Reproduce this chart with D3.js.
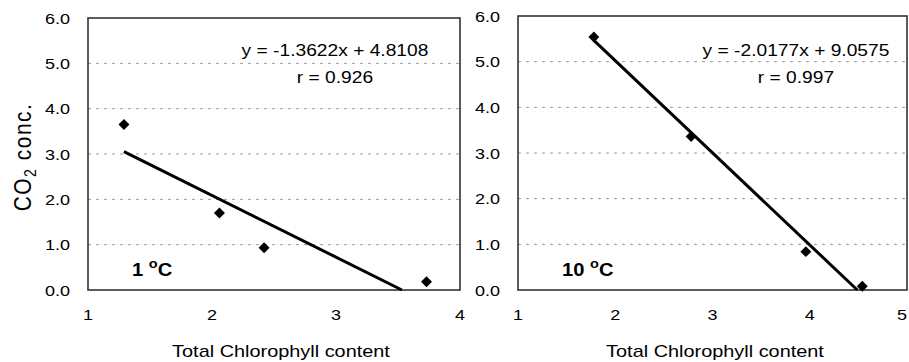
<!DOCTYPE html>
<html>
<head>
<meta charset="utf-8">
<script src="https://cdn.jsdelivr.net/npm/d3@7"></script>
<style>
  body { margin: 0; background: #fff; }
  svg { display: block; font-family: Arial, "Liberation Sans", sans-serif; }
</style>
</head>
<body>
<div id="chart"></div>
<script>
// data
const yTicks = [0, 1, 2, 3, 4, 5, 6];
const xTicks1 = [1, 2, 3, 4];
const xTicks10 = [1, 2, 3, 4, 5];
const chl1 = [1.29, 2.06, 2.42, 3.73];
const co2_1 = [3.65, 1.70, 0.93, 0.18];
const chl10 = [1.78, 2.78, 3.96, 4.54];
const co2_10 = [5.54, 3.36, 0.84, 0.08];
const slopes = [-1.3622, -2.0177];
const intercepts = [4.8108, 9.0575];
const rValues = ["0.926", "0.997"];
const tempLabels = ["1", "10"];

const W = 909, H = 362;

const svg = d3.select("#chart").append("svg")
    .attr("width", W).attr("height", H);

// stretched text helper (the scan is wider than tall)
function stext(g, x, y, str, size, anchor, sx) {
  return g.append("text")
    .attr("transform", "translate(" + x + "," + y + ") scale(" + (sx || 1.2) + ",1)")
    .attr("text-anchor", anchor || "middle")
    .style("font-size", size + "px")
    .attr("fill", "#000")
    .text(str);
}

const panels = [
  {xs: chl1, ys: co2_1, ticks: xTicks1, dom: [1, 4], left: 88, right: 460, top: 18, bottom: 290,
   eqX: 335, titleX: 281, labX: 132, i: 0},
  {xs: chl10, ys: co2_10, ticks: xTicks10, dom: [1, 5], left: 518, right: 907, top: 16, bottom: 290,
   eqX: 796, titleX: 715, labX: 562, i: 1}
];

panels.forEach(p => {
  const x = d3.scaleLinear().domain(p.dom).range([p.left, p.right]);
  const y = d3.scaleLinear().domain([0, 6]).range([p.bottom, p.top]);
  const g = svg.append("g");

  // dashed grid
  g.selectAll(".grid").data(yTicks.filter(d => d > 0 && d < 6))
    .enter().append("line")
    .attr("x1", p.left).attr("x2", p.right)
    .attr("y1", d => y(d)).attr("y2", d => y(d))
    .attr("stroke", "#999").attr("stroke-width", 1)
    .attr("stroke-dasharray", "3,5");

  // frame
  g.append("rect")
    .attr("x", p.left).attr("y", p.top)
    .attr("width", p.right - p.left).attr("height", p.bottom - p.top)
    .attr("fill", "none").attr("stroke", "#333").attr("stroke-width", 1.6);

  // y tick labels
  yTicks.forEach(d => {
    stext(g, p.left - 18, y(d) + 5.5, d3.format(".1f")(d), 15, "end", 1.2);
  });
  // x tick labels (keep the last one inside the page)
  p.ticks.forEach(d => {
    stext(g, Math.min(x(d), W - 7), 320, d3.format("d")(d), 15, "middle", 1.2);
  });

  // fitted line from first point to where it hits zero
  const m = slopes[p.i], b = intercepts[p.i];
  const x0 = d3.min(p.xs), x1 = -b / m;
  g.append("line")
    .attr("x1", x(x0)).attr("y1", y(m * x0 + b))
    .attr("x2", x(x1)).attr("y2", y(0))
    .attr("stroke", "#000").attr("stroke-width", 3);

  // diamond markers
  g.selectAll(".pt").data(d3.zip(p.xs, p.ys))
    .enter().append("path")
    .attr("d", d3.symbol().type(d3.symbolSquare).size(60))
    .attr("transform", d => "translate(" + x(d[0]) + "," + y(d[1]) + ") rotate(45)")
    .attr("fill", "#000");

  // equation and r
  const sign = b >= 0 ? " + " : " - ";
  stext(g, p.eqX, 56, "y = " + m + "x" + sign + Math.abs(b), 17, "middle", 1.13);
  stext(g, p.eqX, 83, "r = " + rValues[p.i], 17, "middle", 1.13);

  // temperature label
  const t = stext(g, p.labX, 276, "", 18, "start", 1.12).style("font-weight", "bold");
  t.append("tspan").text(tempLabels[p.i] + " ");
  t.append("tspan").attr("dy", -8).style("font-size", "13px").text("o");
  t.append("tspan").attr("dy", 8).text("C");

  // x axis title
  stext(g, p.titleX, 357, "Total Chlorophyll content", 17, "middle", 1.17);
});

// y axis title
const yt = svg.append("text")
  .attr("transform", "translate(31,157) scale(1.15,1) rotate(-90)")
  .attr("text-anchor", "middle")
  .style("font-size", "21px")
  .style("letter-spacing", "1.5px")
  .attr("fill", "#000");
yt.append("tspan").text("CO");
yt.append("tspan").attr("dy", 4).style("font-size", "14px").text("2");
yt.append("tspan").attr("dy", -4).text(" conc.");
</script>
</body>
</html>
